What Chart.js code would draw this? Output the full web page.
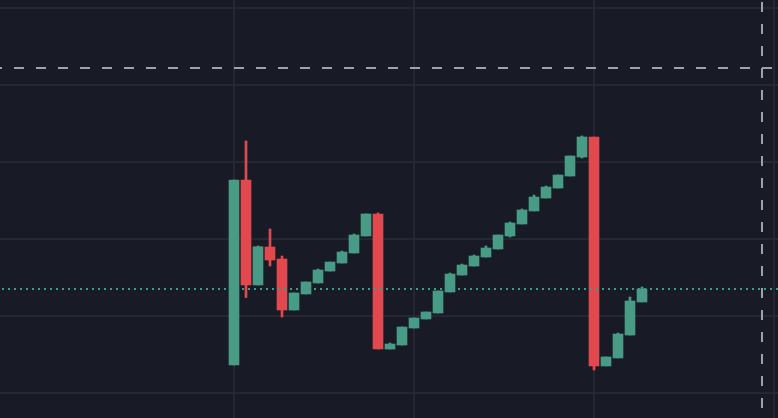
<!DOCTYPE html>
<html>
<head>
<meta charset="utf-8">
<script src="https://cdn.jsdelivr.net/npm/chart.js@4/dist/chart.umd.min.js"></script>
<style>
  html, body { margin: 0; padding: 0; background: #181a25; overflow: hidden; }
  #wrap { width: 778px; height: 418px; }
  canvas { display: block; }
</style>
</head>
<body>
<div id="wrap"><canvas id="c" width="778" height="418"></canvas></div>
<script>
// ---- data ----
const categories = Array.from({length: 35}, (_, i) => i); // bar index
const open  = [93.64,117.66,104.03,108.96,107.40,100.78,102.86,104.29,105.84,106.88,108.18,110.39,113.25,95.71,96.23,98.44,99.61,100.39,103.12,105.32,106.49,107.66,108.70,110.39,111.95,113.64,115.32,116.62,118.18,120.65,123.25,93.51,94.55,97.53,101.82];
const high  = [117.66,122.73,109.09,111.30,107.79,102.99,104.42,106.10,107.01,108.44,110.65,113.25,113.38,96.49,98.57,99.74,100.52,103.25,105.58,106.75,107.92,109.09,110.52,112.21,113.90,115.71,116.88,118.31,120.78,123.38,123.25,94.68,97.79,102.47,103.77];
const low   = [93.64,102.40,104.03,106.49,99.87,100.78,102.86,104.29,105.84,106.88,108.18,110.39,95.71,95.71,96.23,98.44,99.61,100.39,103.12,105.32,106.49,107.66,108.70,110.26,111.95,113.64,115.32,116.62,118.18,120.52,92.99,93.51,94.55,97.53,101.82];
const close = [117.66,104.03,109.00,107.27,100.78,102.99,104.42,105.97,107.01,108.31,110.52,113.25,95.71,96.36,98.57,99.74,100.52,103.25,105.45,106.62,107.79,108.83,110.52,112.08,113.77,115.45,116.75,118.31,120.78,123.25,93.51,94.68,97.66,101.95,103.51];
const priceGridTicks = [90, 100, 110, 120, 130, 140];
const timeGridTicks = [0, 15, 30, 45];
const crosshairPrice = 132.21;
const crosshairIndex = 44;
const lastPrice = close[close.length - 1];

// ---- styles ----
const UP = '#489b85', DOWN = '#e1494f';
const colors = categories.map(i => close[i] >= open[i] ? UP : DOWN);

const bodies = categories.map(i => ({x: i, y: [open[i], close[i]]}));
const wicks  = categories.map(i => ({x: i, y: [low[i], high[i]]}));

const linesPlugin = {
  id: 'lines',
  afterDatasetsDraw(chart) {
    const {ctx, scales: {x, y}, width, height} = chart;
    ctx.save();
    // last price dotted line
    const py = Math.round(y.getPixelForValue(lastPrice));
    ctx.strokeStyle = '#3f9b88';
    ctx.lineWidth = 2;
    ctx.setLineDash([2, 4]);
    ctx.lineDashOffset = 4;
    ctx.beginPath(); ctx.moveTo(0, py); ctx.lineTo(width, py); ctx.stroke();
    // crosshair
    ctx.strokeStyle = '#9fa2ab';
    ctx.lineWidth = 2;
    ctx.setLineDash([10, 12]);
    const cy = Math.round(y.getPixelForValue(crosshairPrice));
    ctx.lineDashOffset = 8;
    ctx.beginPath(); ctx.moveTo(0, cy); ctx.lineTo(width, cy); ctx.stroke();
    const cx = Math.round(x.getPixelForValue(crosshairIndex));
    ctx.lineDashOffset = 20;
    ctx.beginPath(); ctx.moveTo(cx, 0); ctx.lineTo(cx, height); ctx.stroke();
    ctx.restore();
  }
};

new Chart(document.getElementById('c'), {
  type: 'bar',
  data: {
    datasets: [
      { data: bodies, backgroundColor: colors, barThickness: 10, order: 0, grouped: false, borderWidth: 0 },
      { data: wicks, backgroundColor: colors, barThickness: 2, order: 1, grouped: false, borderWidth: 0 }
    ]
  },
  options: {
    responsive: false,
    animation: false,
    events: [],
    layout: { padding: 0 },
    plugins: { legend: { display: false }, tooltip: { enabled: false } },
    scales: {
      x: {
        type: 'linear',
        min: -19.5,
        max: 45.3333,
        offset: false,
        afterBuildTicks: s => { s.ticks = timeGridTicks.map(v => ({value: v})); },
        ticks: { display: false },
        border: { display: false },
        grid: { offset: false, drawTicks: false, color: '#252834', lineWidth: 2 }
      },
      y: {
        type: 'linear',
        min: 86.753,
        max: 141.039,
        afterBuildTicks: s => { s.ticks = priceGridTicks.map(v => ({value: v})); },
        ticks: { display: false },
        border: { display: false },
        grid: { drawTicks: false, color: '#252834', lineWidth: 2 }
      }
    }
  },
  plugins: [linesPlugin]
});
</script>
</body>
</html>
